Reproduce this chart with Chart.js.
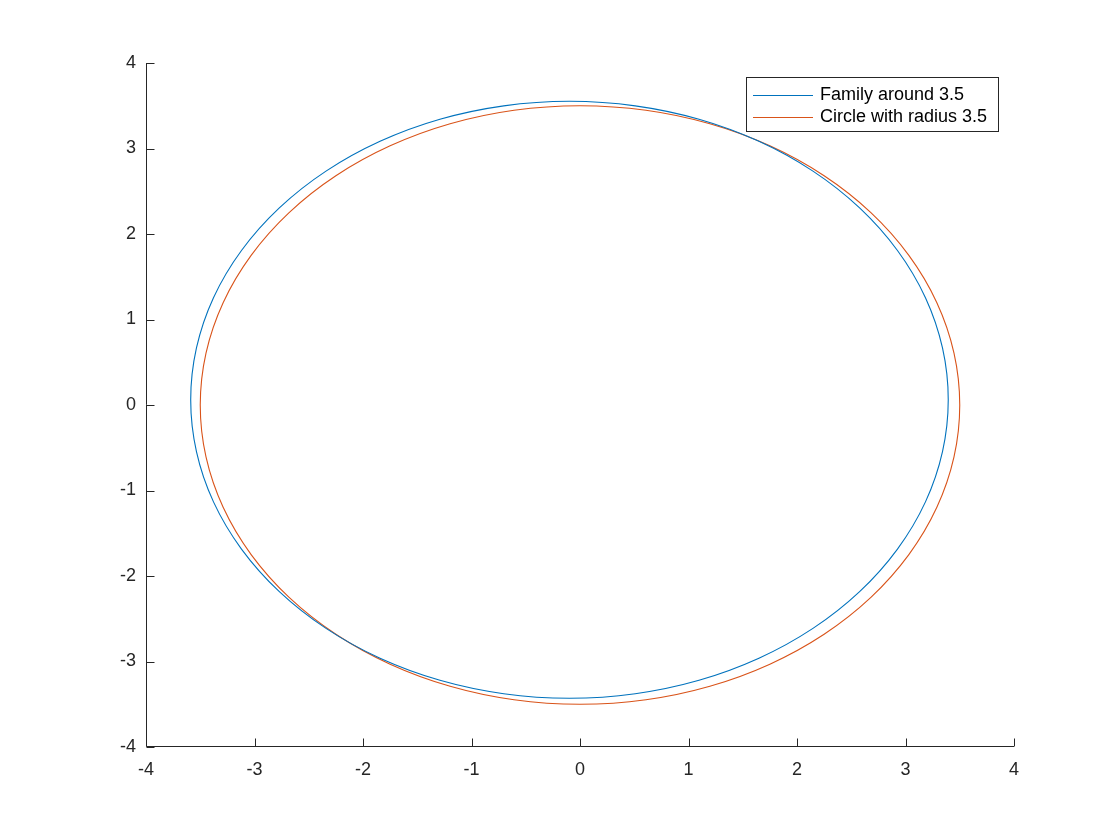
<!DOCTYPE html>
<html>
<head>
<meta charset="utf-8">
<script src="https://cdn.jsdelivr.net/npm/chart.js@4.4.0/dist/chart.umd.min.js"></script>
<style>
  html, body { margin: 0; padding: 0; background: #fff; }
  #wrap { width: 1120px; height: 840px; }
</style>
</head>
<body>
<div id="wrap"><canvas id="orbitChart" width="1120" height="840"></canvas></div>
<script>
// values, every 10 degrees round the curves (closed loops)
const familyX = [3.394, 3.341, 3.184, 2.926, 2.577, 2.147, 1.649, 1.097, 0.509, -0.097,
  -0.703, -1.291, -1.843, -2.341, -2.771, -3.120, -3.378, -3.535, -3.588,
  -3.535, -3.378, -3.120, -2.771, -2.341, -1.843, -1.291, -0.703, -0.097,
  0.509, 1.097, 1.649, 2.147, 2.577, 2.926, 3.184, 3.341];
const familyY = [0.061, 0.667, 1.255, 1.807, 2.305, 2.735, 3.084, 3.342, 3.499, 3.552,
  3.499, 3.342, 3.084, 2.735, 2.305, 1.807, 1.255, 0.667, 0.061,
  -0.545, -1.133, -1.685, -2.183, -2.613, -2.962, -3.220, -3.377, -3.430,
  -3.377, -3.220, -2.962, -2.613, -2.183, -1.685, -1.133, -0.545];

const circleX = [3.5, 3.447, 3.289, 3.031, 2.681, 2.250, 1.75, 1.197, 0.608, 0,
  -0.608, -1.197, -1.75, -2.250, -2.681, -3.031, -3.289, -3.447, -3.5,
  -3.447, -3.289, -3.031, -2.681, -2.250, -1.75, -1.197, -0.608, 0,
  0.608, 1.197, 1.75, 2.250, 2.681, 3.031, 3.289, 3.447];
const circleY = [0, 0.608, 1.197, 1.75, 2.250, 2.681, 3.031, 3.289, 3.447, 3.5,
  3.447, 3.289, 3.031, 2.681, 2.250, 1.75, 1.197, 0.608, 0,
  -0.608, -1.197, -1.75, -2.250, -2.681, -3.031, -3.289, -3.447, -3.5,
  -3.447, -3.289, -3.031, -2.681, -2.250, -1.75, -1.197, -0.608];

const seriesLabels = ['Family around 3.5', 'Circle with radius 3.5'];
const seriesColors = ['#0072BD', '#D95319'];
const tickValues = [-4, -3, -2, -1, 0, 1, 2, 3, 4];

const FONT = "'Liberation Sans', Helvetica, Arial, sans-serif";
const AXIS_COLOR = '#262626';

function toPoints(xs, ys) {
  return xs.map((x, i) => ({ x: x, y: ys[i] }));
}

// close each line into a smooth loop, the way the radar chart does it
const closedLoops = {
  id: 'closedLoops',
  afterDatasetsUpdate(chart) {
    chart.getSortedVisibleDatasetMetas().forEach(meta => {
      const line = meta.dataset;
      if (!line) return;
      line._loop = true;
      line._fullLoop = true;
      line._pointsUpdated = false;
      delete line._segments;
      delete line._path;
    });
  }
};

// axis lines with inward ticks, plus the boxed legend in the upper right
const matlabAxes = {
  id: 'matlabAxes',
  afterDraw(chart) {
    const ctx = chart.ctx;
    const xs = chart.scales.x;
    const ys = chart.scales.y;
    const left = Math.round(xs.left) + 0.5;
    const bottom = Math.round(ys.bottom) - 0.5;
    ctx.save();
    ctx.strokeStyle = AXIS_COLOR;
    ctx.lineWidth = 1;
    ctx.beginPath();
    ctx.moveTo(left, Math.round(ys.top));
    ctx.lineTo(left, bottom);
    ctx.lineTo(Math.round(xs.right), bottom);
    const tl = 8;
    tickValues.forEach(v => {
      const px = Math.round(xs.getPixelForValue(v)) + 0.5;
      ctx.moveTo(px, bottom);
      ctx.lineTo(px, bottom - tl);
      const py = Math.round(ys.getPixelForValue(v)) + 0.5;
      ctx.moveTo(left, py);
      ctx.lineTo(left + tl, py);
    });
    ctx.stroke();

    // legend
    const bx = 746.5, by = 77.5, bw = 252, bh = 54;
    ctx.fillStyle = '#fff';
    ctx.fillRect(bx, by, bw, bh);
    ctx.strokeStyle = AXIS_COLOR;
    ctx.strokeRect(bx, by, bw, bh);
    ctx.font = '18px ' + FONT;
    ctx.textBaseline = 'middle';
    ctx.textAlign = 'left';
    chart.data.datasets.forEach((ds, i) => {
      const ly = 95.5 + i * 22;
      ctx.strokeStyle = ds.borderColor;
      ctx.beginPath();
      ctx.moveTo(753, ly);
      ctx.lineTo(813, ly);
      ctx.stroke();
      ctx.fillStyle = '#000';
      ctx.fillText(ds.label, 820, ly);
    });
    ctx.restore();
  }
};

const ctx = document.getElementById('orbitChart').getContext('2d');
new Chart(ctx, {
  type: 'scatter',
  data: {
    datasets: [
      {
        label: seriesLabels[0],
        data: toPoints(familyX, familyY),
        borderColor: seriesColors[0],
        backgroundColor: seriesColors[0],
        showLine: true,
        borderWidth: 1.1,
        pointRadius: 0,
        tension: 0.33
      },
      {
        label: seriesLabels[1],
        data: toPoints(circleX, circleY),
        borderColor: seriesColors[1],
        backgroundColor: seriesColors[1],
        showLine: true,
        borderWidth: 1.1,
        pointRadius: 0,
        tension: 0.33
      }
    ]
  },
  options: {
    responsive: false,
    animation: false,
    layout: { padding: { top: 63, right: 106, left: 0, bottom: 0 } },
    plugins: {
      legend: { display: false },
      tooltip: { enabled: false }
    },
    scales: {
      x: {
        type: 'linear',
        min: -4,
        max: 4,
        afterFit: s => { s.height = 93; },
        afterBuildTicks: s => { s.ticks = tickValues.map(v => ({ value: v })); },
        grid: { display: false, drawTicks: false },
        border: { display: false },
        ticks: { padding: 12, color: AXIS_COLOR, font: { family: FONT, size: 18 } }
      },
      y: {
        type: 'linear',
        min: -4,
        max: 4,
        afterFit: s => { s.width = 146; },
        afterBuildTicks: s => { s.ticks = tickValues.map(v => ({ value: v })); },
        grid: { display: false, drawTicks: false },
        border: { display: false },
        ticks: { padding: 10, color: AXIS_COLOR, font: { family: FONT, size: 18 } }
      }
    }
  },
  plugins: [closedLoops, matlabAxes]
});
</script>
</body>
</html>
